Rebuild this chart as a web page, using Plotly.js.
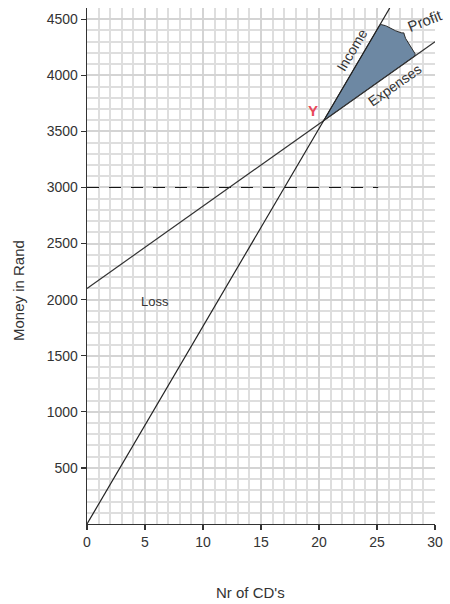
<!DOCTYPE html>
<html>
<head>
<meta charset="utf-8">
<script src="https://cdn.plot.ly/plotly-3.0.1.min.js"></script>
<style>html,body{margin:0;padding:0;background:#fff;}#chart{width:450px;height:604px;}</style>
</head>
<body>
<div id="chart"></div>
<script>
// ---- data ----
const incomeX = [0, 26.1];
const incomeY = [0, 4600];
const expenseX = [0, 30];
const expenseY = [2100, 4300];
const dashX = [0, 25.1];
const dashY = [3000, 3000];
const profitIncomeEndX = 25.24;   // where the shaded area meets the income line
const profitExpenseEndX = 28.27;  // where the shaded area meets the expenses line
const xTickVals = [0, 5, 10, 15, 20, 25, 30];
const yTickVals = [500, 1000, 1500, 2000, 2500, 3000, 3500, 4000, 4500];
const labelTexts = {income: 'Income', expenses: 'Expenses', profit: 'Profit', loss: 'Loss', point: 'Y'};
const xTitle = "Nr of CD's";
const yTitle = 'Money in Rand';

// ---- helpers ----
function lineAt(xs, ys, x) {
  const m = (ys[1] - ys[0]) / (xs[1] - xs[0]);
  return ys[0] + m * (x - xs[0]);
}
const mInc = (incomeY[1] - incomeY[0]) / (incomeX[1] - incomeX[0]);
const mExp = (expenseY[1] - expenseY[0]) / (expenseX[1] - expenseX[0]);
const xCross = (expenseY[0] - incomeY[0]) / (mInc - mExp);
const yCross = lineAt(incomeX, incomeY, xCross);

const W = 450, H = 604;
const margin = {l: 87, r: 15, t: 8, b: 80};
const plotW = W - margin.l - margin.r, plotH = H - margin.t - margin.b;
const xRange = [0, 30], yRange = [0, 4600];
const sx = plotW / (xRange[1] - xRange[0]);
const sy = plotH / (yRange[1] - yRange[0]);
function paperX(px) { return (px - margin.l) / plotW; }
function paperY(py) { return (H - margin.b - py) / plotH; }

// profit region: income edge, brace edge, expenses edge
const A = [profitIncomeEndX, lineAt(incomeX, incomeY, profitIncomeEndX)];
const B = [profitExpenseEndX, lineAt(expenseX, expenseY, profitExpenseEndX)];
const Ap = [A[0] * sx, -A[1] * sy], Bp = [B[0] * sx, -B[1] * sy];
const dx = Bp[0] - Ap[0], dy = Bp[1] - Ap[1];
const len = Math.hypot(dx, dy);
const nrm = [dy / len, -dx / len];
const depth = 10;
const profX = [xCross, A[0]], profY = [yCross, A[1]];
const N = 60;
for (let i = 1; i < N; i++) {
  const t = i / N;
  const s = t < 0.5 ? 2 * t : 2 * (1 - t);          // 0 at ends, 1 at the cusp
  const f = 0.62 * Math.pow(Math.sin(Math.PI * s / 2), 0.55) + 0.38 * Math.pow(s, 6);
  const px = Ap[0] + dx * t + nrm[0] * depth * f;
  const py = Ap[1] + dy * t + nrm[1] * depth * f;
  profX.push(px / sx);
  profY.push(-py / sy);
}
profX.push(B[0], xCross);
profY.push(B[1], yCross);

const angInc = -Math.atan(mInc * sy / sx) * 180 / Math.PI;
const angExp = -Math.atan(mExp * sy / sx) * 180 / Math.PI;

const font = 'Liberation Sans, Arial, sans-serif';
const txt = '#333';

const traces = [
  {x: profX, y: profY, mode: 'lines', fill: 'toself', fillcolor: '#6d88a3',
   line: {color: '#2b2b2b', width: 1, shape: 'linear'}, hoverinfo: 'skip', showlegend: false},
  {x: dashX, y: dashY, mode: 'lines', line: {color: '#111', width: 1, dash: '12px,10px'}, showlegend: false},
  {x: expenseX, y: expenseY, mode: 'lines', line: {color: '#333', width: 1.2}, showlegend: false},
  {x: incomeX, y: incomeY, mode: 'lines', line: {color: '#222', width: 1.2}, showlegend: false}
];

const layout = {
  width: W, height: H, margin: margin,
  paper_bgcolor: '#fff', plot_bgcolor: '#fff',
  showlegend: false,
  font: {family: font, size: 14, color: txt},
  xaxis: {
    range: xRange, tickmode: 'array', tickvals: xTickVals,
    ticks: 'outside', ticklen: 5, tickcolor: '#333', tickwidth: 1.2,
    showline: true, linecolor: '#333', linewidth: 1.3, zeroline: false,
    showgrid: true, gridcolor: '#d4d4d4', gridwidth: 2,
    minor: {tickmode: 'linear', tick0: 0, dtick: 1, showgrid: true, gridcolor: '#dedede', gridwidth: 2, ticks: ''},
    tickfont: {family: font, size: 14, color: txt}, fixedrange: true
  },
  yaxis: {
    range: yRange, tickmode: 'array', tickvals: yTickVals,
    ticks: 'outside', ticklen: 5, tickcolor: '#333', tickwidth: 1.2,
    showline: true, linecolor: '#333', linewidth: 1.3, zeroline: false,
    showgrid: true, gridcolor: '#d4d4d4', gridwidth: 2,
    minor: {tickmode: 'linear', tick0: 0, dtick: 100, showgrid: true, gridcolor: '#dedede', gridwidth: 2, ticks: ''},
    tickfont: {family: font, size: 14, color: txt}, fixedrange: true
  },
  annotations: [
    {x: 22.84, y: 4225, xref: 'x', yref: 'y', text: labelTexts.income, showarrow: false,
     textangle: angInc, font: {family: font, size: 14, color: txt}},
    {x: 26.55, y: 3913, xref: 'x', yref: 'y', text: labelTexts.expenses, showarrow: false,
     textangle: angExp, font: {family: font, size: 14, color: txt}},
    {x: 29.15, y: 4490, xref: 'x', yref: 'y', text: labelTexts.profit, showarrow: false,
     textangle: -21.5, font: {family: font, size: 15, color: txt}},
    {x: 5.84, y: 1982, xref: 'x', yref: 'y', text: labelTexts.loss, showarrow: false,
     font: {family: font, size: 13, color: txt}},
    {x: 19.48, y: 3685, xref: 'x', yref: 'y', text: '<b>' + labelTexts.point + '</b>', showarrow: false,
     font: {family: font, size: 15, color: '#e8475a'}},
    {x: paperX(250), y: paperY(592), xref: 'paper', yref: 'paper', xanchor: 'center', yanchor: 'middle',
     text: xTitle, showarrow: false, font: {family: font, size: 15, color: txt}},
    {x: paperX(18), y: paperY(291), xref: 'paper', yref: 'paper', xanchor: 'center', yanchor: 'middle',
     text: yTitle, showarrow: false, textangle: -90, font: {family: font, size: 15, color: txt}}
  ]
};

Plotly.newPlot('chart', traces, layout, {staticPlot: true, displayModeBar: false});
</script>
</body>
</html>
